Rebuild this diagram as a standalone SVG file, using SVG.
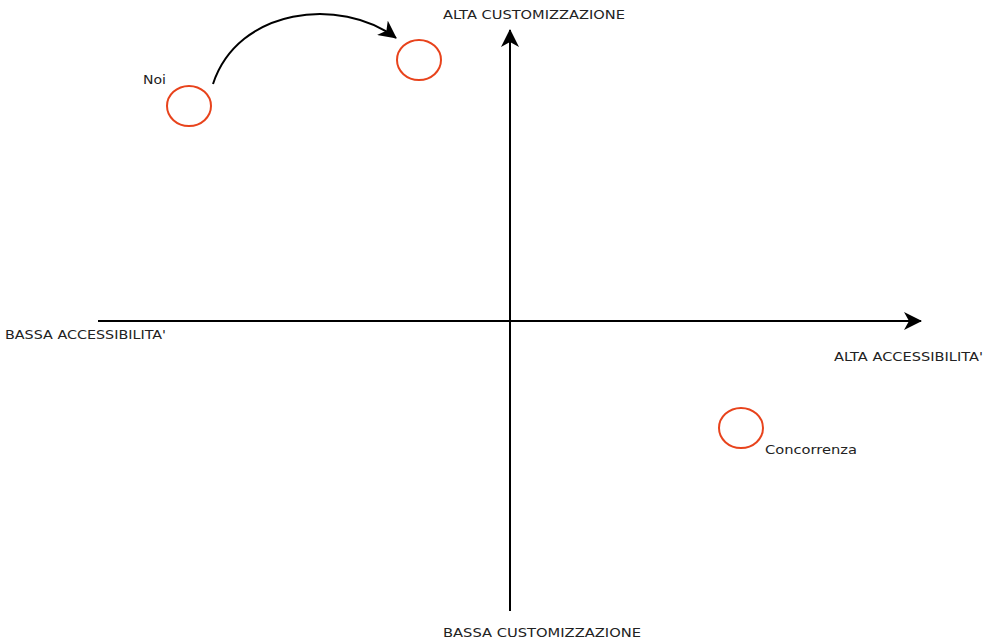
<svg xmlns="http://www.w3.org/2000/svg" width="985" height="641" viewBox="0 0 985 641">
<style>
.t{font-family:"DejaVu Sans","Liberation Sans",sans-serif;font-size:13px;fill:#222;lengthAdjust:spacingAndGlyphs}
.c{fill:none;stroke:#e8431c;stroke-width:2}
.l{fill:none;stroke:#000;stroke-width:2}
</style>
<defs>
<marker id="big" markerWidth="18" markerHeight="18" refX="17" refY="9" orient="auto" markerUnits="userSpaceOnUse" viewBox="0 0 18 18">
<path d="M0,0 L18,9 L0,18 L5,9 Z" fill="#000"/>
</marker>
</defs>
<rect width="985" height="641" fill="#fff"/>
<g id="connectors">
<line class="l" x1="510" y1="611" x2="510" y2="30" marker-end="url(#big)"/>
<line class="l" x1="98" y1="321" x2="921" y2="321" marker-end="url(#big)"/>
<path class="l" d="M213,84 C238,8 340,-4 396,38" marker-end="url(#big)"/>
</g>
<g id="noi">
<ellipse class="c" cx="189" cy="106" rx="22" ry="20"/>
<text class="t" x="143" y="84" textLength="23" lengthAdjust="spacingAndGlyphs">Noi</text>
</g>
<g id="target">
<ellipse class="c" cx="419" cy="60" rx="22" ry="20"/>
</g>
<g id="concorrenza">
<ellipse class="c" cx="741" cy="428" rx="22" ry="20"/>
<text class="t" x="765" y="454" textLength="92" lengthAdjust="spacingAndGlyphs">Concorrenza</text>
</g>
<g id="labels">
<text class="t" x="443" y="19" textLength="182" lengthAdjust="spacingAndGlyphs">ALTA CUSTOMIZZAZIONE</text>
<text class="t" x="5" y="339" textLength="161" lengthAdjust="spacingAndGlyphs">BASSA ACCESSIBILITA'</text>
<text class="t" x="834" y="361" textLength="149" lengthAdjust="spacingAndGlyphs">ALTA ACCESSIBILITA'</text>
<text class="t" x="443" y="637" textLength="198" lengthAdjust="spacingAndGlyphs">BASSA CUSTOMIZZAZIONE</text>
</g>
</svg>
